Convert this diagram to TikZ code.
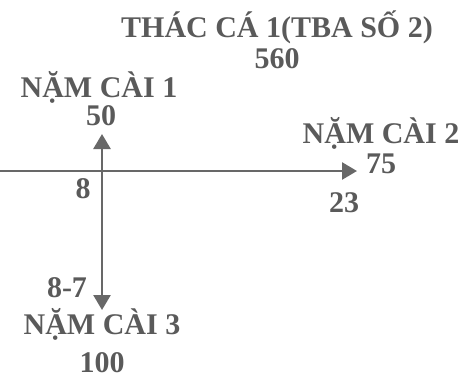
\documentclass[tikz,border=0pt]{standalone}
\usepackage{fontspec}
\setmainfont{Liberation Serif}
\usepackage{tikz}
\usetikzlibrary{arrows.meta}
\usepackage{xcolor}
\definecolor{txtgray}{HTML}{5A5A5A}
\definecolor{linegray}{HTML}{686868}

\begin{document}
\begin{tikzpicture}[
    x=1pt, y=-1pt,
    >={Triangle[length=15pt,width=17pt]},
    lbl/.style={anchor=base, inner sep=0pt, text=txtgray,
        font=\bfseries\fontsize{30}{32}\selectfont},
    feeder/.style={line width=2.6pt, draw=linegray}
]

\useasboundingbox (0,0) rectangle (462,381);

% Nhan

\node[lbl] (tba) at (277,37) {THÁC CÁ 1(TBA SỐ 2)};

\node[lbl] (v560) at (277,68) {560};

\node[lbl] (nc1) at (99,97) {NẶM CÀI 1};

\node[lbl] (v50) at (101,125) {50};

\node[lbl] (nc2) at (381,143) {NẶM CÀI 2};

\node[lbl, anchor=base west] (v75) at (366,173) {75};

\node[lbl] (v23) at (344,212) {23};

\node[lbl] (v8) at (83,198) {8};

\node[lbl] (v87) at (67,297) {8-7};

\node[lbl] (nc3) at (102,334) {NẶM CÀI 3};

\node[lbl] (v100) at (102,372) {100};

% Duong day

\coordinate (J) at (102,171);

\coordinate (westend) at (0,171);

\coordinate (ea) at (357,171);

\coordinate (up) at (102,134);

\coordinate (dn) at (102,310);

\draw[feeder, ->] (westend) -- (ea);

\draw[feeder, ->] (J) -- (up);

\draw[feeder, ->] (J) -- (dn);

\end{tikzpicture}
\end{document}
